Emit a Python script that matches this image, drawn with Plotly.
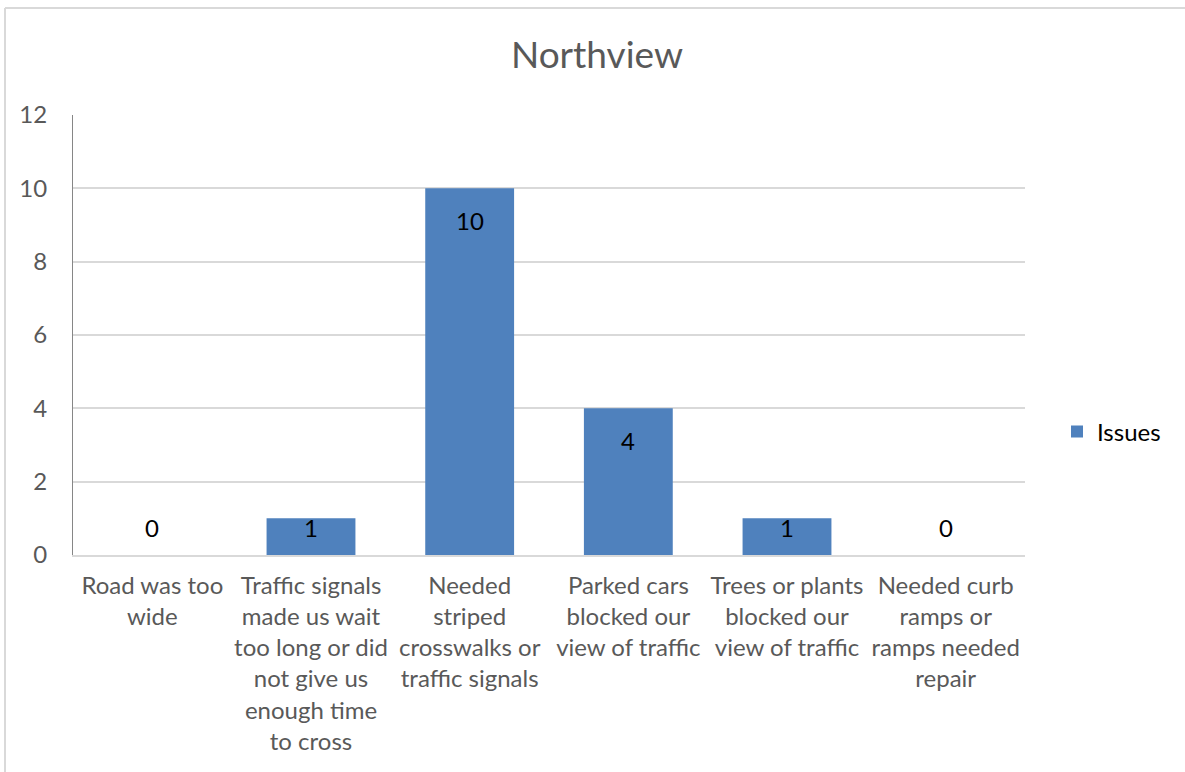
import plotly.graph_objects as go

categories = [
    "Road was too<br>wide",
    "Traffic signals<br>made us wait<br>too long or did<br>not give us<br>enough time<br>to cross",
    "Needed<br>striped<br>crosswalks or<br>traffic signals",
    "Parked cars<br>blocked our<br>view of traffic",
    "Trees or plants<br>blocked our<br>view of traffic",
    "Needed curb<br>ramps or<br>ramps needed<br>repair",
]
values = [0, 1, 10, 4, 1, 0]
series_name = "Issues"
title_text = "Northview"
y_ticks = [0, 2, 4, 6, 8, 10, 12]

FONT = "Lato"
GRAY = "#595959"
BAR = "#4F81BD"

W, H = 1185, 772
ML, MR, MT, MB = 73, 160, 115, 217
pw = W - ML - MR
ph = H - MT - MB
unit = ph / 12.0

fig = go.Figure()
fig.add_trace(go.Bar(
    x=categories, y=values, name=series_name,
    marker=dict(color=BAR, line=dict(width=0)),
    showlegend=True,
))

# data labels: inside end, clamped near the baseline for short bars
for c, v in zip(categories, values):
    ypos = max(v - 32 / unit, 28 / unit)
    fig.add_annotation(x=c, y=ypos, text=str(v), showarrow=False,
                       xref="x", yref="y", yanchor="middle",
                       font=dict(family=FONT, size=24, color="#000000"))

# chart border (top and left visible)
bx = (5 - ML) / pw
by = 1 + (MT - 8) / ph
fig.add_shape(type="line", xref="paper", yref="paper", x0=bx, x1=1.5, y0=by, y1=by,
              line=dict(color="#D9D9D9", width=2))
fig.add_shape(type="line", xref="paper", yref="paper", x0=bx, x1=bx, y0=by, y1=-1,
              line=dict(color="#D9D9D9", width=2))

fig.update_layout(
    width=W, height=H,
    margin=dict(l=ML, r=MR, t=MT, b=MB, autoexpand=False),
    paper_bgcolor="white", plot_bgcolor="white",
    font=dict(family=FONT, color=GRAY, size=24),
    title=dict(text=title_text, x=597 / W, xanchor="center", xref="container",
               y=1 - 55 / H, yanchor="middle", yref="container",
               font=dict(family=FONT, size=37, color=GRAY)),
    bargap=0.44,
    legend=dict(x=(1057 - ML) / pw, y=(555 - 432) / ph, xanchor="left", yanchor="middle",
                font=dict(family=FONT, size=24, color="#000000"), bgcolor="rgba(0,0,0,0)",
                itemwidth=30),
    xaxis=dict(showgrid=False, showline=True, linecolor="#D9D9D9", linewidth=2,
               ticks="", tickfont=dict(family=FONT, size=24, color=GRAY), tickangle=0,
               ticklabelstandoff=8),
    yaxis=dict(range=[0, 12], tickvals=y_ticks, showgrid=True, gridcolor="#D9D9D9", gridwidth=2,
               showline=True, linecolor="#868686", linewidth=1, zeroline=False,
               ticks="", tickfont=dict(family=FONT, size=24, color=GRAY),
               ticklabelstandoff=20),
)

fig.write_html("out.html", config={"displayModeBar": False},
               post_script="document.body.style.margin='0';document.body.style.overflow='hidden';")
